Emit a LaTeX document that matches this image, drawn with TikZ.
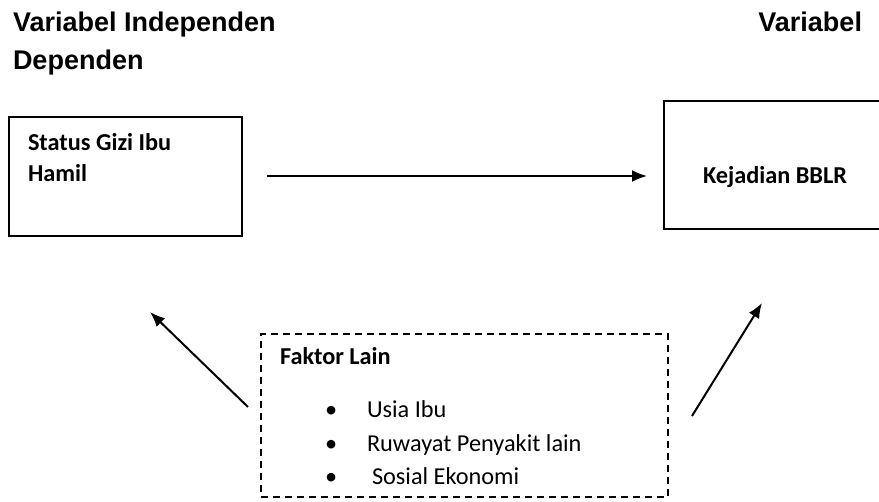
\documentclass[tikz,border=0pt]{standalone}
\usepackage{fontspec}
\setmainfont{Liberation Sans}
\newfontfamily\calibri{Carlito}
\usetikzlibrary{arrows.meta,positioning}

\begin{document}
\begin{tikzpicture}[x=1pt,y=-1pt,line width=2pt,
		head/.style={anchor=base west,inner sep=0pt,font=\fontsize{27}{31}\selectfont\bfseries},
		txt/.style={anchor=base west,inner sep=0pt,font=\calibri\fontsize{24.3}{29}\selectfont},
		tebal/.style={txt,font=\calibri\fontsize{24.3}{29}\selectfont\bfseries},
		varbox/.style={draw,rectangle,inner sep=0pt},
		arr/.style={-{Latex[length=15pt,width=12pt]}}]
		\clip (0,0) rectangle (879,502);
		% judul
		\node[head] (indep) at (12,32) {Variabel Independen};
		\node[head] (dep) at (12,70) {Dependen};
		\node[head,anchor=base east] (var) at (863,32) {Variabel};
		% kotak variabel
		\node[varbox,minimum width=233pt,minimum height=119pt] (gizi) at (125.5,176.5) {};
		\node[tebal] (gizi1) at (27,151) {Status Gizi Ibu};
		\node[tebal] (gizi2) at (27,182) {Hamil};
		\node[varbox,minimum width=226pt,minimum height=128pt] (bblr) at (777,165) {};
		\node[tebal] (bblr1) at (702,184) {Kejadian BBLR};
		% faktor lain
		\node[draw,dash pattern=on 7pt off 5pt,minimum width=407pt,minimum height=163pt,inner sep=0pt] (lain) at (464.5,415.5) {};
		\node[tebal] (lain1) at (279,365) {Faktor Lain};
		\node[txt] (b1) at (324,418) {\textbullet};
		\node[txt] (b2) at (324,452) {\textbullet};
		\node[txt] (b3) at (324,485) {\textbullet};
		\node[txt] (usia) at (366,418) {Usia Ibu};
		\node[txt] (ruw) at (366,452) {Ruwayat Penyakit lain};
		\node[txt] (sos) at (371,485) {Sosial Ekonomi};
		% panah
		\coordinate (kiri) at (248,407);
		\coordinate (kiriujung) at (150,312);
		\coordinate (kanan) at (692,416);
		\coordinate (kananujung) at (762,303);
		\draw[arr,shorten <=24pt,shorten >=16pt] (gizi.east |- 0,176) -- (bblr.west |- 0,176);
		\draw[arr] (kiri) -- (kiriujung);
		\draw[arr] (kanan) -- (kananujung);
\end{tikzpicture}
\end{document}
